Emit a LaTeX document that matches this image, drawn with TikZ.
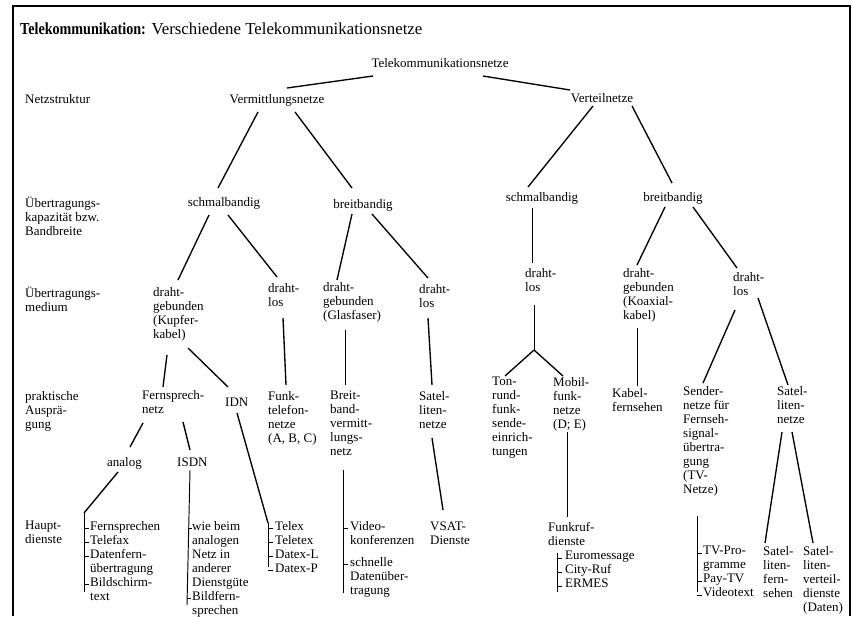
\documentclass[tikz,border=0pt]{standalone}
\usepackage{fontspec}
\setmainfont{Liberation Serif}
\newcommand\bodyfont{\fontsize{13}{14}\selectfont}
\newcommand\titlefont{\fontsize{16.8}{18}\selectfont}
\begin{document}
\begin{tikzpicture}[x=1pt,y=-1pt,
  lbl/.style={anchor=north west, inner sep=0pt, align=left, font=\bodyfont, execute at begin node=\strut},
  ctr/.style={anchor=base, inner sep=0pt, font=\bodyfont},
  conn/.style={line width=1.35pt},
  brk/.style={line width=0.95pt},
  frame/.style={line width=2.4pt}]
\useasboundingbox (0,0) rectangle (853,616);
\draw[frame] (13,616) -- (13,6) -- (850,6) -- (850,616);
% title
\node[anchor=base west, inner sep=0pt, font=\titlefont] (title) at (20,34) {{\bfseries\addfontfeatures{FakeStretch=0.84}Telekommunikation:} Verschiedene Telekommunikationsnetze};
% row labels
\node[lbl] (r1) at (25,93) {Netzstruktur};
\node[lbl] (r2) at (25,197) {Übertragungs-\\kapazität bzw.\\Bandbreite};
\node[lbl] (r3) at (25,287) {Übertragungs-\\medium};
\node[lbl] (r4) at (25,391) {praktische\\Ausprä-\\gung};
\node[lbl] (r5) at (25,521) {Haupt-\\dienste};
% tree nodes
\node[ctr] (tk) at (440,67) {Telekommunikationsnetze};
\node[ctr] (verm) at (277,103) {Vermittlungsnetze};
\node[ctr] (vert) at (602,102) {Verteilnetze};
\node[ctr] (schmL) at (224,206) {schmalbandig};
\node[ctr] (breitL) at (363,208) {breitbandig};
\node[ctr] (schmR) at (542,201) {schmalbandig};
\node[ctr] (breitR) at (673,201) {breitbandig};
\node[lbl] (dgK) at (153,287) {draht-\\gebunden\\(Kupfer-\\kabel)};
\node[lbl] (dlA) at (268,283) {draht-\\los};
\node[lbl] (dgG) at (323,282) {draht-\\gebunden\\(Glasfaser)};
\node[lbl] (dlB) at (419,284) {draht-\\los};
\node[lbl] (dlC) at (525,268) {draht-\\los};
\node[lbl] (dgKo) at (623,268) {draht-\\gebunden\\(Koaxial-\\kabel)};
\node[lbl] (dlD) at (733,272) {draht-\\los};
\node[lbl] (fern) at (142,390) {Fernsprech-\\netz};
\node[lbl] (idn) at (225,396) {IDN};
\node[lbl] (funk) at (268,391) {Funk-\\telefon-\\netze\\(A, B, C)};
\node[lbl] (bbv) at (330,391) {Breit-\\band-\\vermitt-\\lungs-\\netz};
\node[lbl] (satA) at (419,391) {Satel-\\liten-\\netze};
\node[lbl] (ton) at (492,377) {Ton-\\rund-\\funk-\\sende-\\einrich-\\tungen};
\node[lbl] (mob) at (553,377) {Mobil-\\funk-\\netze\\(D; E)};
\node[lbl] (kab) at (612,388) {Kabel-\\fernsehen};
\node[lbl] (send) at (683,386) {Sender-\\netze für\\Fernseh-\\signal-\\übertra-\\gung\\(TV-\\Netze)};
\node[lbl] (satB) at (777,386) {Satel-\\liten-\\netze};
\node[lbl] (analog) at (107,456) {analog};
\node[lbl] (isdn) at (177,456) {ISDN};
\node[lbl] (fsp) at (90,521) {Fernsprechen\\Telefax\\Datenfern-\\übertragung\\Bildschirm-\\text};
\node[lbl] (wie) at (192,521) {wie beim\\analogen\\Netz in\\anderer\\Dienstgüte\\Bildfern-\\sprechen};
\node[lbl] (telex) at (275,521) {Telex\\Teletex\\Datex-L\\Datex-P};
\node[lbl] (video) at (350,521) {Video-\\konferenzen};
\node[lbl] (schnell) at (350,557) {schnelle\\Datenüber-\\tragung};
\node[lbl] (vsat) at (430,522) {VSAT-\\Dienste};
\node[lbl] (funkruf) at (548,522) {Funkruf-\\dienste};
\node[lbl] (euro) at (565,551) {Euromessage\\City-Ruf\\ERMES};
\node[lbl] (tv) at (703,546) {TV-Pro-\\gramme\\Pay-TV\\Videotext};
\node[lbl] (satf) at (763,546) {Satel-\\liten-\\fern-\\sehen};
\node[lbl] (satv) at (803,546) {Satel-\\liten-\\verteil-\\dienste\\(Daten)};
% connectors
\draw[conn] ([shift={(-67,9)}]tk.base) -- ([shift={(10,-15)}]verm.base);
\draw[conn] ([shift={(43,9)}]tk.base) -- ([shift={(-32,-12)}]vert.base);
\draw[conn] ([shift={(-19,9)}]verm.base) -- ([shift={(-6,-18)}]schmL.base);
\draw[conn] ([shift={(18,9)}]verm.base) -- ([shift={(-11,-20)}]breitL.base);
\draw[conn] ([shift={(-9,4)}]vert.base) -- ([shift={(-14,-14)}]schmR.base);
\draw[conn] ([shift={(30,4)}]vert.base) -- ([shift={(-1,-18)}]breitR.base);
\draw[conn] ([shift={(-15,9)}]schmL.base) -- ([shift={(25,-7)}]dgK.north west);
\draw[conn] ([shift={(4,9)}]schmL.base) -- ([shift={(9,-6)}]dlA.north west);
\draw[conn] ([shift={(-11,6)}]breitL.base) -- ([shift={(14,-2)}]dgG.north west);
\draw[conn] ([shift={(9,6)}]breitL.base) -- ([shift={(9,-6)}]dlB.north west);
\draw[brk] ([shift={(-10,7)}]schmR.base) -- ([shift={(7,-5)}]dlC.north west);
\draw[conn] ([shift={(-8,6)}]breitR.base) -- ([shift={(14,-3)}]dgKo.north west);
\draw[conn] ([shift={(20,6)}]breitR.base) -- ([shift={(4,-4)}]dlD.north west);
\draw[conn] ([shift={(14,68)}]dgK.north west) -- ([shift={(21,-3)}]fern.north west);
\draw[conn] ([shift={(35,61)}]dgK.north west) -- ([shift={(3,-9)}]idn.north west);
\draw[conn] ([shift={(15,35)}]dlA.north west) -- ([shift={(18,-6)}]funk.north west);
\draw[brk] ([shift={(22,48)}]dgG.north west) -- ([shift={(15,-6)}]bbv.north west);
\draw[conn] ([shift={(9,34)}]dlB.north west) -- ([shift={(13,-6)}]satA.north west);
\coordinate (fork) at ([shift={(9,82)}]dlC.north west);
\draw[brk] ([shift={(9,37)}]dlC.north west) -- (fork);
\draw[conn] (fork) -- ([shift={(13,-1)}]ton.north west);
\draw[conn] (fork) -- ([shift={(10,-1)}]mob.north west);
\draw[brk] ([shift={(14,60)}]dgKo.north west) -- ([shift={(25,-2)}]kab.north west);
\draw[conn] ([shift={(2,38)}]dlD.north west) -- ([shift={(20,-3)}]send.north west);
\draw[conn] ([shift={(25,26)}]dlD.north west) -- ([shift={(11,-1)}]satB.north west);
\draw[conn] ([shift={(1,33)}]fern.north west) -- ([shift={(23,-9)}]analog.north west);
\draw[conn] ([shift={(41,32)}]fern.north west) -- ([shift={(13,-6)}]isdn.north west);
\draw[conn] ([shift={(12,17)}]idn.north west) -- ([shift={(-7,2)}]telex.north west);
\draw[brk] ([shift={(13,79)}]bbv.north west) -- ([shift={(-7,36)}]schnell.north west);
\draw[conn] ([shift={(13,47)}]satA.north west) -- ([shift={(13,-12)}]vsat.north west);
\draw[brk] ([shift={(14,55)}]mob.north west) -- ([shift={(19,-5)}]funkruf.north west);
\draw[conn] ([shift={(5,46)}]satB.north west) -- ([shift={(2,-3)}]satf.north west);
\draw[conn] ([shift={(15,46)}]satB.north west) -- ([shift={(10,-3)}]satv.north west);
\draw[conn] ([shift={(11,16)}]analog.north west) -- ([shift={(-6,-8)}]fsp.north west);
\draw[brk] ([shift={(-6,-8)}]fsp.north west) -- ([shift={(-6,71)}]fsp.north west);
\draw[brk] ([shift={(13,14)}]isdn.north west) -- ([shift={(-5,84)}]wie.north west);
\draw[brk] ([shift={(-7,2)}]telex.north west) -- ([shift={(-7,46)}]telex.north west);
\draw[brk] ([shift={(-8,2)}]euro.north west) -- ([shift={(-8,41)}]euro.north west);
\draw[brk] ([shift={(-6,-30)}]tv.north west) -- ([shift={(-6,46)}]tv.north west);
% ticks
\foreach \dy in {7,21,35,63} \draw[brk] ([shift={(-6,\dy)}]fsp.north west) -- ([shift={(-1,\dy)}]fsp.north west);
\draw[brk] ([shift={(-3,7)}]wie.north west) -- ([shift={(0,7)}]wie.north west);
\draw[brk] ([shift={(-5,77)}]wie.north west) -- ([shift={(-1,77)}]wie.north west);
\foreach \dy in {7,21,35,49} \draw[brk] ([shift={(-7,\dy)}]telex.north west) -- ([shift={(-2,\dy)}]telex.north west);
\draw[brk] ([shift={(-7,7)}]video.north west) -- ([shift={(-2,7)}]video.north west);
\draw[brk] ([shift={(-7,7)}]schnell.north west) -- ([shift={(-2,7)}]schnell.north west);
\foreach \dy in {7,21,35} \draw[brk] ([shift={(-8,\dy)}]euro.north west) -- ([shift={(-3,\dy)}]euro.north west);
\foreach \dy in {7,35,49} \draw[brk] ([shift={(-6,\dy)}]tv.north west) -- ([shift={(-1,\dy)}]tv.north west);
\end{tikzpicture}
\end{document}
